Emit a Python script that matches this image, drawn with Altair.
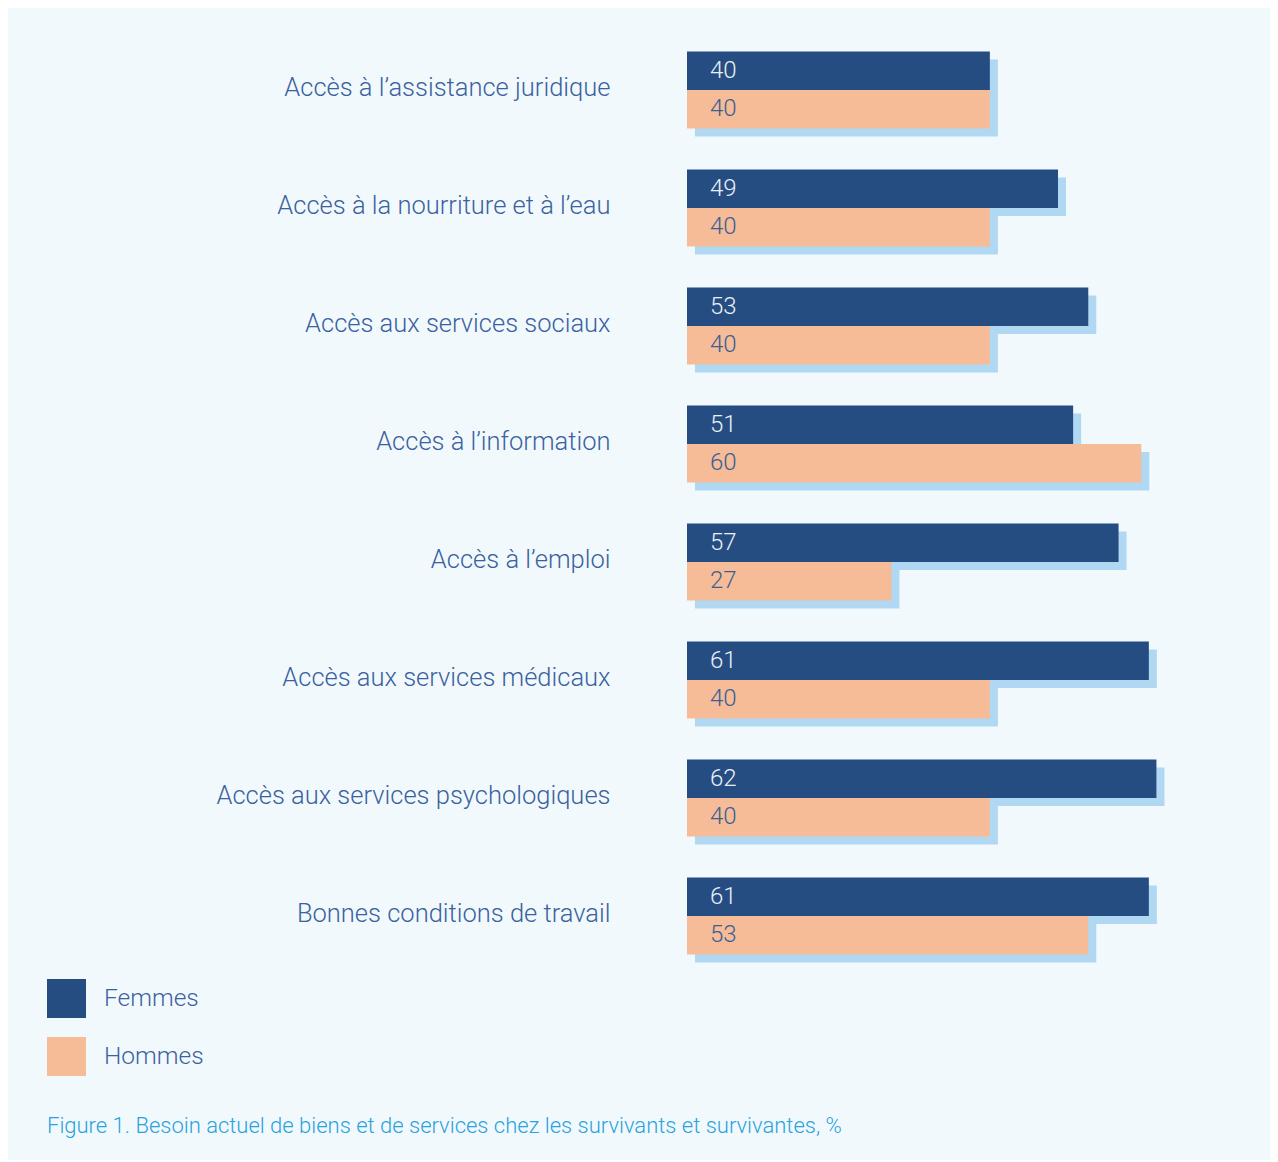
import altair as alt
import pandas as pd

categories = [
    "Accès à l’assistance juridique",
    "Accès à la nourriture et à l’eau",
    "Accès aux services sociaux",
    "Accès à l’information",
    "Accès à l’emploi",
    "Accès aux services médicaux",
    "Accès aux services psychologiques",
    "Bonnes conditions de travail",
]
series = ["Femmes", "Hommes"]
femmes = [40, 49, 53, 51, 57, 61, 62, 61]
hommes = [40, 40, 40, 60, 27, 40, 40, 53]
caption = "Figure 1. Besoin actuel de biens et de services chez les survivants et survivantes, %"

rows = []
for c, f, h in zip(categories, femmes, hommes):
    rows.append({"cat": c, "series": "Femmes", "value": f})
    rows.append({"cat": c, "series": "Hommes", "value": h})
df = pd.DataFrame(rows)

DARK = "#254d81"
PEACH = "#f5bc97"
SHADOW = "#b0d8f3"
TEXT = "#3a62a0"
BG = "#f2f9fd"
FONT = "Roboto"

H = 944
PI = 0.3475
PO = PI / 2

xscale = alt.Scale(domain=[0, 70], nice=False, zero=True)
yoff = alt.YOffset("series:N", sort=series, scale=alt.Scale(paddingInner=0, paddingOuter=0))

base = alt.Chart(df)

shadow = base.transform_calculate(cat_s="datum.cat").mark_bar(
    color=SHADOW, xOffset=8, x2Offset=8
).encode(
    x=alt.X("value:Q", scale=xscale, axis=None),
    y=alt.Y("cat_s:N", sort=categories, axis=None,
            scale=alt.Scale(range=[8, H + 8], paddingInner=PI, paddingOuter=PO)),
    yOffset=yoff,
)

bars = base.mark_bar().encode(
    x=alt.X("value:Q", scale=xscale, axis=None),
    y=alt.Y("cat:N", sort=categories, title=None,
            scale=alt.Scale(paddingInner=PI, paddingOuter=PO),
            axis=alt.Axis(labelFontSize=25.5, labelColor=TEXT, labelFont=FONT,
                          labelFontWeight=300, labelPadding=77, ticks=False,
                          domain=False, labelLimit=0, labelOffset=-2)),
    yOffset=yoff,
    color=alt.Color("series:N", sort=series,
                    scale=alt.Scale(domain=series, range=[DARK, PEACH]),
                    legend=alt.Legend(orient="none", legendX=-640, legendY=948,
                                      title=None, symbolType="square",
                                      symbolSize=1521, symbolStrokeWidth=0,
                                      symbolOpacity=1, labelFontSize=24.5,
                                      labelFont=FONT, labelFontWeight=300,
                                      labelColor=TEXT, labelOffset=18,
                                      rowPadding=19, padding=0)),
)

labels = base.mark_text(align="left", baseline="middle", dx=23, fontSize=24,
                        font=FONT, fontWeight=300).encode(
    x=alt.datum(0, scale=xscale),
    y=alt.Y("cat:N", sort=categories),
    yOffset=yoff,
    text=alt.Text("value:Q"),
    color=alt.condition(alt.datum.series == "Femmes", alt.value("#e9f0f8"), alt.value("#3b5f95")),
)

front = alt.layer(bars, labels)

chart = alt.layer(shadow, front).resolve_scale(y="independent").properties(
    width=530,
    height=H,
    background=BG,
    padding={"left": 679, "top": 23, "right": 53, "bottom": 185},
    autosize=alt.AutoSizeParams(type="none"),
    title=alt.TitleParams(caption, orient="bottom", anchor="start", frame="group",
                          dx=-640, offset=40, fontSize=22, font=FONT,
                          fontWeight=300, color="#29a2de"),
).configure_view(stroke=None)

chart.save("out.html", embed_options={"renderer": "svg", "actions": False})
